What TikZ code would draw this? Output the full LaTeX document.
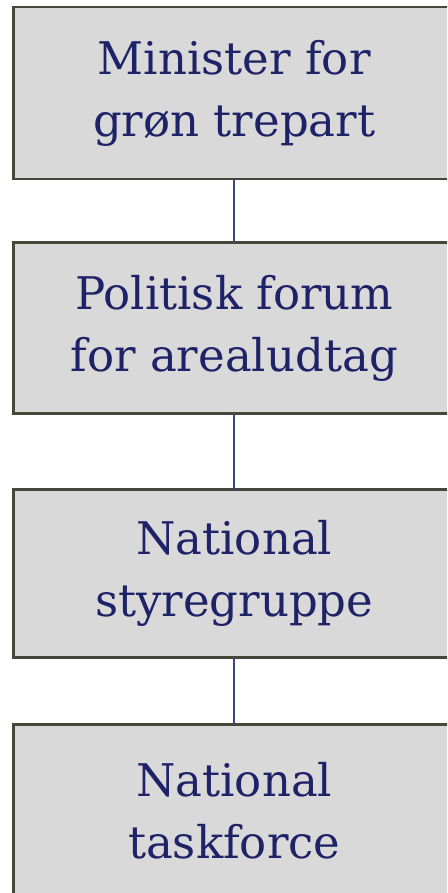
\documentclass[tikz,border=0pt]{standalone}
\usepackage{fontspec}
\setmainfont{DejaVu Serif}
\definecolor{boxfill}{HTML}{D9D9D9}
\definecolor{boxline}{HTML}{46463A}
\definecolor{txtcol}{HTML}{1E2266}
\definecolor{linkcol}{HTML}{3C4680}
\tikzset{
  orgbox/.style={draw=boxline, fill=boxfill, line width=2.6pt, minimum width=441.5pt,
    inner sep=0pt, outer sep=0pt, align=center, text=txtcol,
    font=\fontsize{45}{62}\selectfont},
  link/.style={draw=linkcol, line width=2.4pt}
}
\begin{document}
\begin{tikzpicture}[x=1pt,y=-1pt]
\useasboundingbox (0,0) rectangle (447,893);
\clip (0,0) rectangle (447,893);
\fill[white] (0,0) rectangle (447,893);
\node[orgbox, minimum height=172pt] (b1) at (234.25,93) {Minister for\\gr\o n trepart};
\node[orgbox, minimum height=171pt] (b2) at (234.25,328) {Politisk forum\\for arealudtag};
\node[orgbox, minimum height=168pt] (b3) at (234.25,573.5) {National\\styregruppe};
\node[orgbox, minimum height=173pt] (b4) at (234.25,811) {National\\taskforce};
\draw[link] (b1.south) -- (b2.north);
\draw[link] (b2.south) -- (b3.north);
\draw[link] (b3.south) -- (b4.north);
\end{tikzpicture}
\end{document}
